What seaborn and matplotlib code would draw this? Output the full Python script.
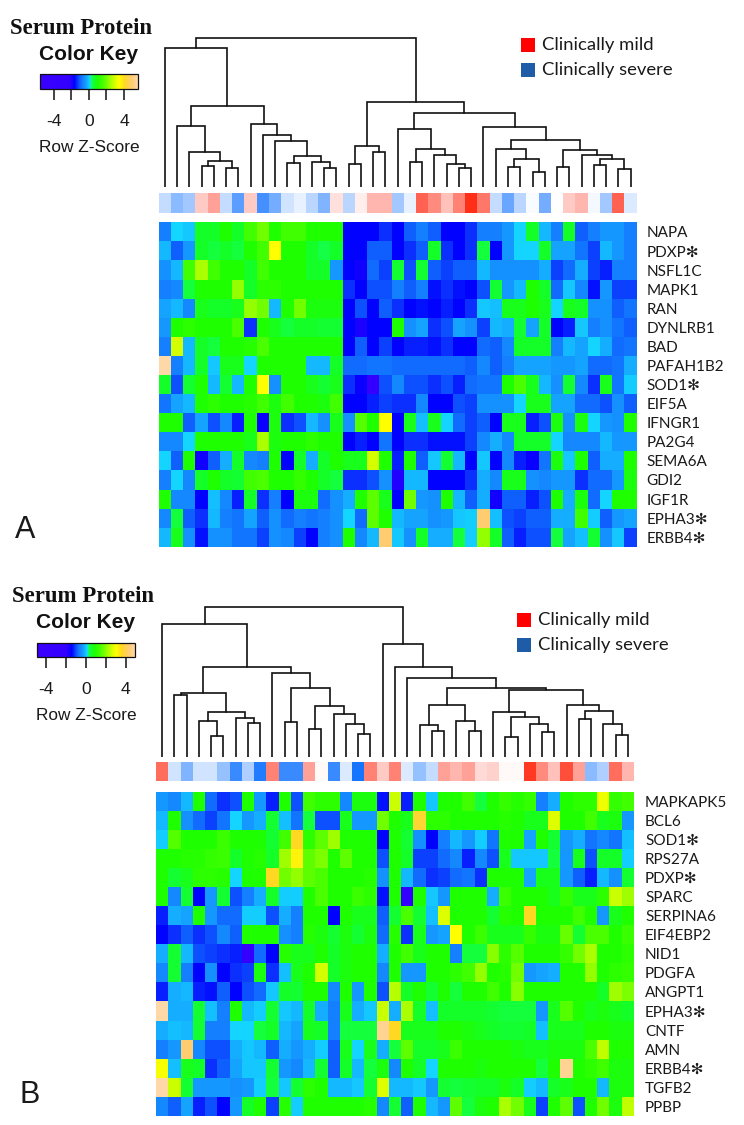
import numpy as np
import matplotlib
matplotlib.use("Agg")
import matplotlib.pyplot as plt
import seaborn as sns
from matplotlib.cm import ScalarMappable
from matplotlib.colors import LinearSegmentedColormap, Normalize
from matplotlib.patches import Rectangle

W, H = 744, 1125

proteins_a = ["NAPA", "PDXP✻", "NSFL1C", "MAPK1", "RAN", "DYNLRB1", "BAD", "PAFAH1B2", "SOD1✻",
              "EIF5A", "IFNGR1", "PA2G4", "SEMA6A", "GDI2", "IGF1R", "EPHA3✻", "ERBB4✻"]
proteins_b = ["MAPKAPK5", "BCL6", "SOD1✻", "RPS27A", "PDXP✻", "SPARC", "SERPINA6", "EIF4EBP2", "NID1",
              "PDGFA", "ANGPT1", "EPHA3✻", "CNTF", "AMN", "ERBB4✻", "TGFB2", "PPBP"]

z_a = [
    [-.7, .1, 0, .7, .7, 1, .7, 1.5, 2, 1, 1.5, 1.5, 1, 1, 1, -1.6, -1.6, -1.6, -1.3, -1.6, -1, -.7, -1, -1.6, -1.6, -1.3, -.7, -.7, -.4, .1, .7, -.1, -.7, .7, -1, -.7, -.4, -.4, -.7],
    [-.1, -1, -.4, .7, .5, .7, .5, 1, 1.5, 3.4, 1, 1, .7, .4, .7, -1.6, -1.6, -1, -1, -1.6, -1.3, -1, .7, -1.3, -1.6, -1.3, .5, -1.6, -.4, .1, .1, .7, -.3, -.3, -.8, -1.2, -.1, -.4, -.7],
    [-.5, -.1, 1.5, 2.5, 1.5, 1, 1, .7, 1.5, 1, 1, 1, .7, .7, -.4, -1.6, -1.8, -.9, -1.2, .6, -1.1, .6, -1, -1.2, -1, -1, -.1, -.5, -.5, -.5, -.5, -.2, -1.2, -.9, -.2, -1.2, -1.4, -.7, -.7],
    [-.7, -.6, .5, 1, 1, 1, 2.3, .7, 1.2, 1.2, 1, 1, 1, 1, 1, -1.3, -1.6, -1.1, -1.1, -.7, -1, -.7, -1.5, -1.3, -1.5, -1.6, -1.1, .6, -.4, -.1, 1, .7, -.9, 0, -.6, -1.5, -.4, -1.2, -1.2],
    [-.3, -.1, -.6, .8, .7, .7, .8, 2.3, 2, -.1, 1, 2, .9, .9, .9, -1.6, -1.1, -1.6, -1, -1.3, -1.6, -1.5, -1.6, -1.4, -1.6, -1.3, 0, -.05, .8, .8, 1, .8, .1, .8, .7, -.5, -.5, -1, -.8],
    [-.4, 1, 1.2, 1, 1, 1, 1.6, -1.3, 1, .8, .5, .7, .7, .6, .6, -1.6, -1.9, -1.6, -1.6, 1, -.5, -.3, -1.3, -1.1, -.3, -.5, -1.2, -.1, -.2, .6, -.3, .7, -1.6, -1.4, 0, -.7, -.5, -.8, -1],
    [-.7, 2.9, -.1, .7, .5, 1, 1, 1.1, 1.6, 1, 1, 1, 1, 1, 1, -1.6, -1, -1.6, -1.2, -1.6, -1.4, -1.4, -1.5, -1.3, -1.6, -1.6, -.9, -1, -.6, .7, .7, .7, -.7, -.1, -.3, .1, -.2, -.9, -.8],
    [5.5, -.7, -.1, .7, 0, .8, .8, .1, 1, 1, 1, 1, -.1, -.1, .7, -.9, -.9, -.8, -.8, -.9, -.9, -.9, -.9, -.9, -.9, -1, -.6, -1, -.7, -.3, -.3, -.3, -.4, -.4, -.3, -.9, -.9, -.8, -.2],
    [.7, -1.1, .6, 1, -.1, .6, -.1, 1, 3.4, -.5, 1, 1, .8, .6, .8, -1.3, -1.7, -2.3, -1.1, -.6, -1.1, -1.1, -1.3, -1.1, -1.4, -.9, -.8, -.8, 1, 1.6, .8, -.1, -.5, .6, -.6, -1.3, .8, -.8, .05],
    [-.8, -.3, -.1, 1, 1.2, 1, 1, 1.1, 1.5, .9, 1.5, 1, 1, .9, 1.5, -1.6, -1.6, -1.4, -1.2, -1.3, -1.3, -.6, -1.6, -1.6, -1.1, -1.2, -.5, -.5, -.5, .1, .8, .8, -.3, -.3, -.9, -.9, -1.1, -.5, -1],
    [1, 1, -1, -.3, -1.1, -.6, -1.4, 1, -1.7, .9, -1.3, -1.1, -.1, -.5, .8, -.5, 1.7, 1, 3.4, -1.6, .8, -.05, .8, .1, -.9, -1.2, -1, -1.6, .8, .8, -1.4, -1.1, .9, -.5, .9, .1, -.4, -.5, 1],
    [-.6, -.6, .1, 1, 1, 1, 1, .8, 2.5, .9, 1, 1, 1.2, 1, 1, -1.6, -1.4, -1.6, -.8, -1.6, -1.3, -1.3, -1.5, -1.5, -1.5, -1.2, -.6, -.2, -.6, .7, .7, .7, .1, -.6, -.6, -.6, -.1, -.4, -.4],
    [.1, -1, 1, -1.8, -1, -.2, .7, -.6, -.7, 1, -1.6, .7, -.2, .7, 1, .8, .8, 2.9, 1, -1.4, 1, -1, 0, .6, -.1, -1.6, 0, -1.6, -.6, -1.4, -1.7, -.8, .9, 0, 1, -1, -.2, -.2, 1],
    [-.7, .1, -.6, .7, 1, .7, .6, 1.5, 1.6, 1, 1, 1.3, 1, .7, .5, -1.3, -1.3, -1.1, -.5, -2, -.1, -.1, -1.6, -1.6, -1.6, -1.3, -.2, -.6, .8, .8, -.5, -.6, -.4, -.4, -1.3, -.9, -.9, -.4, .9],
    [1, -.6, -.6, -1.6, -.05, -.6, -1.4, .7, -1.3, -.7, -1.6, .9, .9, -.9, -.5, -.2, 1, 1.8, .8, -1.6, 2, -.4, -.5, 1, -.1, -1, -.2, -1.8, -1, -1, -1.4, -1.1, 1, -.2, .9, -.9, .1, 1, 1],
    [-.6, .5, -1, -1.3, -.1, -.7, -.8, -.3, -1, -.5, -.9, -.7, -.8, -.7, -.5, .1, -.9, 1.8, 1, -.1, -.3, -.3, -.5, -.4, 0, .05, 4.8, -.05, -1.1, -1.2, -1, -1, -.2, -.2, 1.5, .05, -1, -.4, -.3],
    [-.1, .8, -.5, -1.5, -.5, -.5, -.8, -.8, -1.2, -.5, -.6, -1.2, -1.6, -.7, -.5, 1, -.6, -.1, 4.8, 0, -.5, .7, -.2, -.2, .5, .05, 2.3, .7, -1, -1.4, -1.1, -1.1, .5, -.3, -.05, .6, -.5, 0, -1.2],
]

z_b = [
    [-.4, -.6, -.1, 1, -.9, -1.3, -1.1, 1, -.4, -1.4, 1, -1.1, 1.5, 1.2, 1.2, -.6, .9, .9, -1.5, 2.8, -1.4, 1, 0, 1, 1, 1.5, .5, 1, 1.3, 1.1, 1.3, -.7, -.2, 1, 1.2, 1.2, 3.2, 1.3, 1.5],
    [-.1, 1, -.5, -.9, -1.2, -.8, .1, -.4, -.2, .6, -.05, -.8, .5, -1.1, -1.1, .8, -.4, -.4, 2, 1, .8, 4.2, 1.2, 1.2, 1, 1, 1, 1, 1.1, 1, .8, .8, 3, 1, 1, 1.5, .8, .9, -.4],
    [.05, 1.7, 1, 1, 1, 1.4, 1, 1, 1, .6, 1.5, 4, 1.2, 1.8, 2.4, 1, 1, 1, -1.6, 1, .6, -.5, -1.6, -.7, -.1, -.4, .05, -.8, 1, 1, -.3, 1, .6, -.4, -.2, -.8, -.6, -.8, -.05],
    [1, 1, 1.1, 1.1, 1.3, 1.4, .7, 1, 1.1, .7, 2.4, 3.6, 1.8, 2.1, 1, 1.8, 1, 1, -1.1, 1, .7, -1.2, -1.2, -.9, -.6, -1.4, -.6, -1.1, .8, 0, 0, 0, .5, -.4, .8, -1.1, .7, .7, .05],
    [1, .6, .8, 1.2, 1.2, 1.1, .1, 1, 1, 4, 2, 2.3, 1.8, 1.6, 1, 1, 1, 1.1, -.5, 1, -.1, -.9, -1.3, -1.2, -.9, -.8, -1.3, 1, 1, 1, -.3, .8, .8, -.4, -1, -1.4, -.1, -.5, .6],
    [1, -.6, .6, -1.6, -.4, .6, -1.1, -.7, -.2, .7, .05, .05, 1, 1.6, 1, 1, 1.4, 1.2, -1.5, 1, -2.3, 1, 0, -.4, 1, 1, 1, -.2, 1.4, 1, 1, 1, .8, 1.3, .8, .8, 1.2, 2.8, 2.4],
    [-1.4, -.2, -.3, 1, -.4, -.9, -.9, .05, .05, -1.1, -.2, -.7, 1, 1, -1.6, 1, .8, .8, -1, .6, 1.6, .6, -.05, 3, 1, 1, 1, .6, 1.1, 1, 4, 1, 1, 1, 1.5, 1, -.4, .8, 1],
    [-1.6, -1.3, -1, -1.3, -1.1, -.6, -1, 1, 1, 1, -.5, -.7, 1.1, .9, .6, .9, .6, .9, -.9, 1.1, -1.3, .8, -.4, -.3, 3.4, 1, 1.4, .8, .8, .8, 1.3, .9, .9, 1.9, .6, 1.6, 1.6, 1, 1.4],
    [-.2, .6, -.1, -1.1, -1.2, -1.3, -1.4, -2.2, -.9, -1.6, 1.1, .8, .8, 1, .7, .9, 1, 1, -.2, 1, 1.5, .8, 1, 1, -.7, .5, .5, 2.2, 1.2, 1.7, 1, 1, 1, 1.3, 2, 2.5, 1, 1, 1.2],
    [-.6, .6, -.7, -1.6, -.5, -1.6, -1.3, -1.2, .9, -1.3, -.05, .8, 1, 2.9, .7, .9, 1, 1, -.6, 1, -.4, -.4, 1, 1, 1.2, 1.5, 2.3, 1, 1.1, 2, -.4, -.3, -.2, 1, 1, 2.3, 1, 1.2, 1.3],
    [-1.4, -.2, -.1, -1.4, -1.5, -1, -1.6, -1.1, -.9, 0, .7, .6, 1, 1, -.6, 1, -.4, 1, -1.1, 2.6, .7, 1, .6, 1, .5, 1, 1, 1.5, 1, 2.2, 1, 1, 1, 1, 1, 1, .7, 2.4, 2.1],
    [5.5, -.2, -.2, .6, -.05, -.7, 1, -.1, .05, .6, 0, -.1, .7, -.2, -.7, .8, -.2, 0, 2.8, -.2, 2.5, .7, -.05, .7, .7, .7, .7, .6, .5, .5, .5, -.4, .8, 1.7, 1, .8, .9, .8, .7],
    [-.2, -.05, -.1, .6, -.7, -.7, .1, .1, .5, .7, -.1, -.3, .8, .7, -.7, .5, .5, .5, 5.2, 4, .8, .8, .8, 1, 1, .9, .8, .7, .6, .6, .7, -.05, .8, .8, .8, 1, 1, .9, .9],
    [-.7, -.4, 4.8, -.6, -1.1, -1.1, -.2, 0, -.1, -1, -.2, -.4, -.2, .05, -1, .8, .1, .8, -.2, .5, 1.8, .7, .7, .8, 1.4, 1, 1, 1, 1, .9, .8, .8, .9, .9, .9, 1.6, 2.7, 1, 1],
    [3.3, -.05, .8, .7, -1.3, -1, -.3, 0, 0, .6, -.4, -.6, -.1, .6, -1, .7, -.1, .5, .9, -.6, 1, .7, .1, 1, 1, 1, .9, 1, 1, 1, 1, .5, 1, 5.2, 1, 1.2, 1.5, .9, .9],
    [5.5, 2.8, .6, -.4, -.4, -.4, -.5, -.4, .05, .5, 0, .6, 1.2, 1, -.1, -.1, 0, .6, 3, -.1, -.1, 0, -.4, .6, .5, .6, .7, .7, .9, .7, .05, -.1, .7, .8, 1, 1, -.1, .9, .9],
    [-.6, -1, -.3, -1.4, -1.1, -1.6, -.4, .7, 1, -1.2, 1.1, .05, 1, 1, 1, 1, 1, 1.1, -.6, .6, -1, 1, -.1, -.4, 1.8, .5, .9, 1, 2.5, 2, .8, -1.2, 1, 1.8, -1.1, 1, 2, .9, 2.7],
]

# clinical score strip above each heatmap, blue = severe, red = mild
severity_a = [-.25, -.5, -.4, .25, .45, -.25, -.7, .25, -.8, -.6, -.2, -.1, -.3, -.55, .15, -.3, .08, .35, .35, -.4,
              -.1, .75, .55, .3, .6, 1, .65, -.25, -.65, -.3, -.03, -.6, 0, .25, .35, -.05, -.4, .75, -.15]
severity_b = [.7, -.2, -.55, -.2, -.2, -.45, -.85, -.35, -.95, .6, -.85, -.85, .45, .03, -.85, -.15, -1, .6, .25, .6,
              -.15, -.45, -.25, .45, .35, .45, .18, .22, .03, .03, .95, .55, .3, .85, .45, -.5, -.35, .7, .35]

# dendrograms as (merge height, left, right), L is a leaf, leaves run left to right
L = None
tree_a = (447,
          (419, L,
           (244,
            (184, L, (105, L, (80, (65, L, L), (58, L, L)))),
            (190, L, (157, L, (140, L, (94, (74, L, L), (75, L, (58, L, L)))))))),
          (256,
           (124, (70, L, L), (106, L, L)),
           (224,
            (174, L, (114, (75, L, L), (98, L, (70, L, (57, L, L))))),
            (182, L, (142,
                      (116, L, (86, (62, L, L), (47, L, L))),
                      (113, (60, L, L), (96, L, (86, (66, L, L), (54, L, L)))))))))
tree_b = (450,
          (399, L,
           (270,
            (190, (185, L, L), (135, (106, L, (62, L, L)), (115, L, (100, L, L)))),
            (250, L, (205, (104, L, L), (152, (83, L, L), (127, L, (98, L, (68, L, L)))))))),
          (338, L, (268, L, (237, L, (207,
                                      (155, (96, L, (78, L, L)), (106, L, (78, L, L))),
                                      (200,
                                       (133, L, (120, (60, L, L), (97, L, (75, L, L)))),
                                       (154, L, (137, (113, L, L), (98, L, (64, L, L))))))))))

key_ticks = [-4, -2, 0, 2, 4]
key_tick_labels = ["-4", "", "0", "", "4"]
legend_labels = ["Clinically mild", "Clinically severe"]
legend_colors = ["#ff0000", "#1f5ca8"]

Z_MAX = 5.5
z_nodes = [(-5.5, "#3a00ff"), (-2.2, "#3300ff"), (-1.6, "#0000ff"), (-1.3, "#0a30ff"), (-1.0, "#0f60ff"),
           (-.7, "#1480ff"), (-.4, "#1498ff"), (-.1, "#14b8ff"), (.15, "#14dcff"), (.3, "#14ff50"),
           (.7, "#14ff28"), (1, "#1eff00"), (1.5, "#40ff00"), (2, "#70ff00"), (2.5, "#aaff00"),
           (3, "#ddff00"), (3.4, "#ffff00"), (4, "#ffd820"), (4.8, "#ffcc70"), (5.5, "#ffd8a8")]
z_cmap = LinearSegmentedColormap.from_list("zscore", [((z + Z_MAX) / (2 * Z_MAX), c) for z, c in z_nodes], N=1024)
strip_cmap = LinearSegmentedColormap.from_list("strip", ["#0068ff", "#ffffff", "#ff1a00"])


def px_axes(fig, left, top, right, bottom):
    return fig.add_axes([left / W, 1 - bottom / H, (right - left) / W, (bottom - top) / H])


def draw_tree(ax, node, next_leaf):
    # returns the x of this node, leaves sit at the middle of their column
    if node is None:
        x = next_leaf[0] + 0.5
        next_leaf[0] += 1
        return x, 0
    height, left, right = node
    xl, yl = draw_tree(ax, left, next_leaf)
    xr, yr = draw_tree(ax, right, next_leaf)
    ax.plot([xl, xl, xr, xr], [yl, height, height, yr], color="#111111", lw=1.2, solid_joinstyle="miter")
    return (xl + xr) / 2, height


def draw_panel(fig, bg, z, severity, tree, proteins, box):
    left, right = box["left"], box["right"]

    ax_tree = px_axes(fig, left, box["tree_base"] - 157, right, box["tree_base"])
    draw_tree(ax_tree, tree, [0])
    ax_tree.set_xlim(0, len(severity))
    ax_tree.set_ylim(0, 471)
    ax_tree.axis("off")

    ax_strip = px_axes(fig, left, box["strip_top"], right, box["strip_top"] + 19.5)
    sns.heatmap(np.array([severity]), ax=ax_strip, cmap=strip_cmap, vmin=-1.1, vmax=1.1, cbar=False,
                xticklabels=False, yticklabels=False)

    ax_heat = px_axes(fig, left, box["heat_top"], right, box["heat_top"] + 324.5)
    sns.heatmap(np.array(z), ax=ax_heat, cmap=z_cmap, vmin=-Z_MAX, vmax=Z_MAX, cbar=False,
                xticklabels=False, yticklabels=proteins)
    ax_heat.yaxis.tick_right()
    ax_heat.tick_params(axis="y", length=0, pad=box["label_pad"], labelrotation=0)
    for label in ax_heat.get_yticklabels():
        label.set_fontfamily(["Lato", "DejaVu Sans"])
        label.set_fontsize(11)
        label.set_color("#1a1a1a")

    # colour key
    ax_key = px_axes(fig, box["key_left"], box["key_top"], box["key_right"], box["key_top"] + 14.5)
    sm = ScalarMappable(norm=Normalize(-box["key_max"], box["key_max"]), cmap=z_cmap)
    bar = fig.colorbar(sm, cax=ax_key, orientation="horizontal")
    bar.set_ticks(key_ticks, labels=[""] * len(key_ticks))
    bar.ax.tick_params(length=8, width=1.1, color="#111111")
    bar.outline.set_linewidth(0.9)
    bar.outline.set_edgecolor("#111111")
    key_mid = (box["key_left"] + box["key_right"]) / 2
    key_unit = (box["key_right"] - box["key_left"]) / (2 * box["key_max"])
    for tick, text in zip(key_ticks, key_tick_labels):
        bg.text(key_mid + tick * key_unit, box["key_top"] + 47, text, fontsize=12.6, family="Liberation Sans",
                ha="center", va="center", color="#1a1a1a")
    bg.text(key_mid + 0.5, box["key_top"] + 73, "Row Z-Score", fontsize=12.4, family="Liberation Sans",
            ha="center", va="center", color="#1a1a1a")
    bg.text(box["title_x"], box["key_top"] - 46, "Serum Protein", fontsize=16.4, family="Liberation Serif",
            weight="bold", ha="center", va="center", color="#111111")
    bg.text(key_mid, box["key_top"] - 20, "Color Key", fontsize=15, family="Liberation Sans",
            weight="bold", ha="center", va="center", color="#111111")

    # legend
    for i, (name, color) in enumerate(zip(legend_labels, legend_colors)):
        y = box["legend_y"] + i * 25
        bg.add_patch(Rectangle((box["legend_x"], y - 7), 14, 14, facecolor=color, edgecolor=color, lw=0))
        bg.text(box["legend_x"] + 21, y, name, fontsize=13.3, family="Lato", ha="left", va="center", color="#1a1a1a")

    bg.text(box["tag_x"], box["tag_y"], box["tag"], fontsize=22, family="Liberation Sans", ha="center",
            va="center", color="#1a1a1a")


panel_a = dict(left=158.7, right=636.7, tree_base=187.3, strip_top=193.3, heat_top=222.3, label_pad=7,
               key_left=40, key_right=137.7, key_top=74, key_max=5.55, title_x=81, legend_x=521, legend_y=45,
               tag="A", tag_x=25, tag_y=530)
panel_b = dict(left=156, right=634, tree_base=756.7, strip_top=761.7, heat_top=791.5, label_pad=8,
               key_left=37, key_right=135, key_top=642.7, key_max=4.93, title_x=83, legend_x=517, legend_y=620,
               tag="B", tag_x=30, tag_y=1095)

sns.set_theme(style="white")

fig = plt.figure(figsize=(W / 100, H / 100), dpi=100)
bg = fig.add_axes([0, 0, 1, 1])
bg.set_xlim(0, W)
bg.set_ylim(H, 0)
bg.axis("off")

draw_panel(fig, bg, z_a, severity_a, tree_a, proteins_a, panel_a)
draw_panel(fig, bg, z_b, severity_b, tree_b, proteins_b, panel_b)

fig.savefig("out.png", dpi=100)
